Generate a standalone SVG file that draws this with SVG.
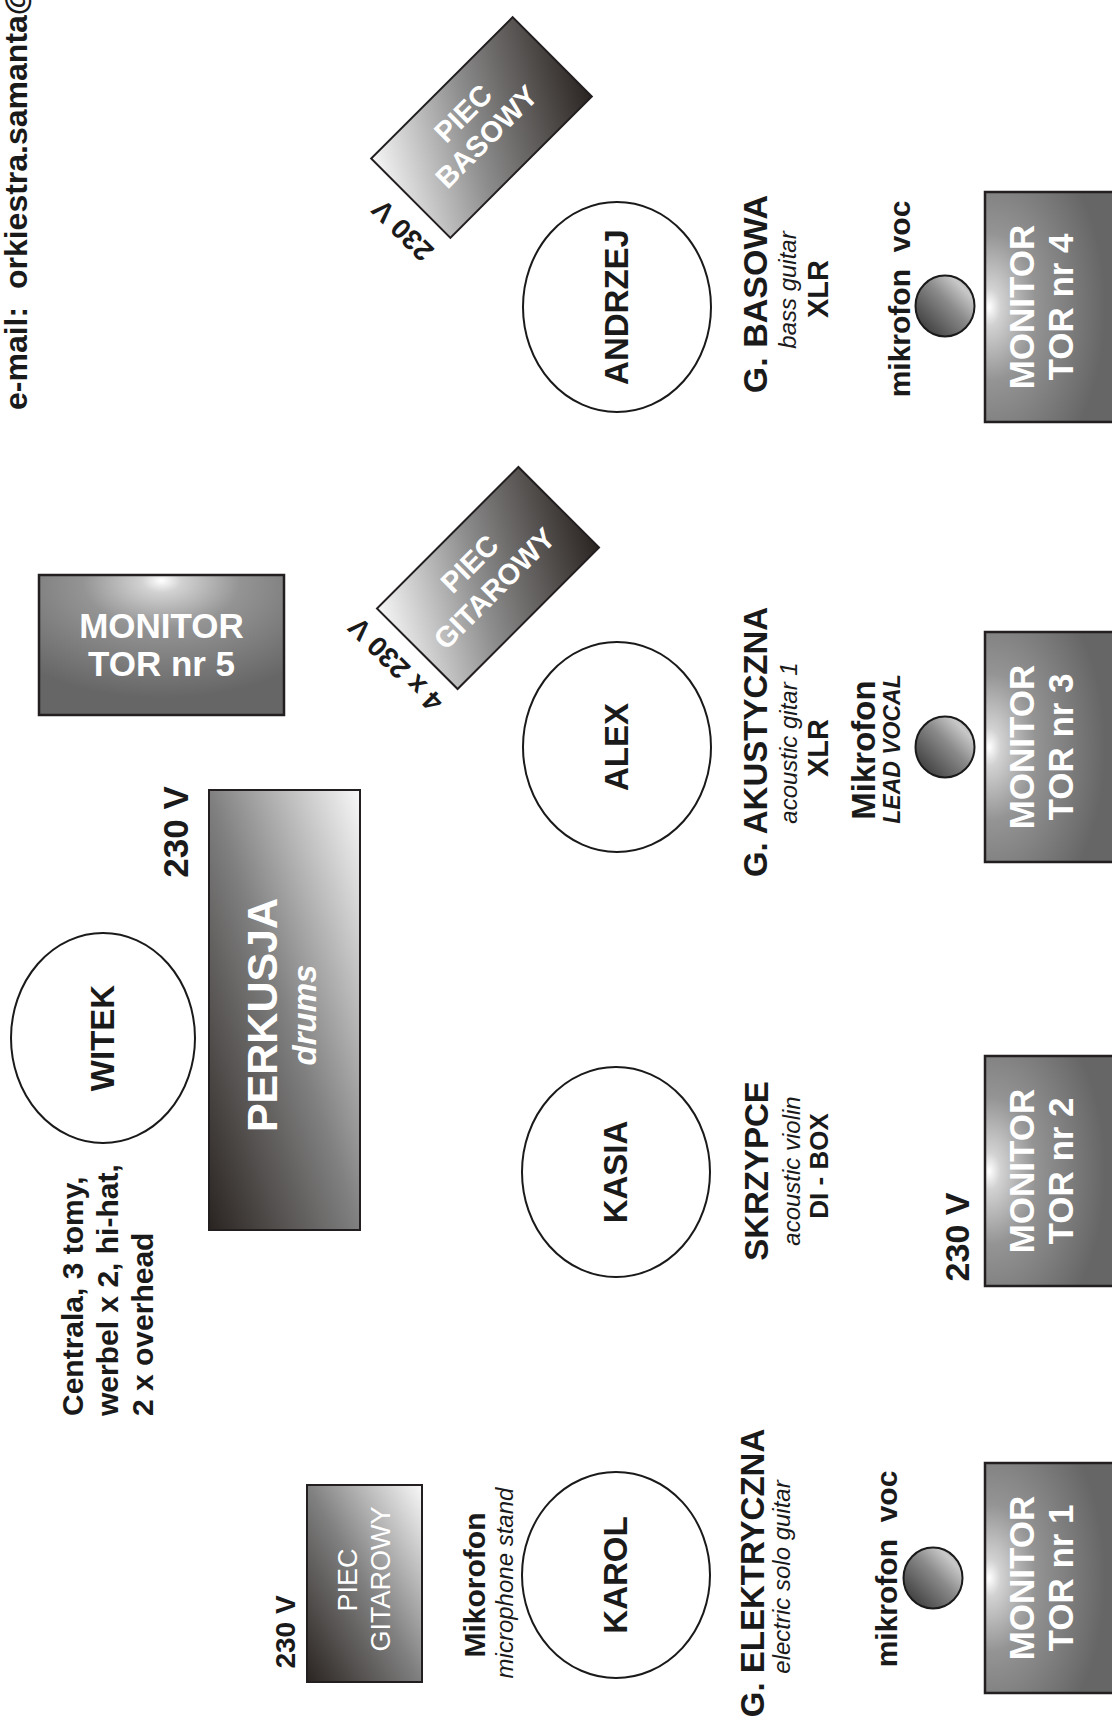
<svg xmlns="http://www.w3.org/2000/svg" width="1112" height="1735" viewBox="0 0 1112 1735">
<defs>
<style>
text{font-family:"Liberation Sans",Arial,sans-serif;fill:#1a1a1a;}
.b{font-weight:bold;}
.i{font-style:italic;}
.w{fill:#ffffff;}
.m{text-anchor:middle;}
.pre{white-space:pre;}
.person{fill:#ffffff;stroke:#1a1a1a;stroke-width:2;}
.box{stroke:#231f20;stroke-width:2;}
.mon{stroke:#231f20;stroke-width:2.5;}
.mic{fill:url(#micG);stroke:#1a1a1a;stroke-width:2;}
</style>
<linearGradient id="ampG" gradientUnits="userSpaceOnUse" x1="-100" y1="-57" x2="100" y2="57">
<stop offset="0" stop-color="#f7f7f7"/>
<stop offset="0.45" stop-color="#8e8e8e"/>
<stop offset="1" stop-color="#2a2421"/>
</linearGradient>
<linearGradient id="diagG" x1="1" y1="0" x2="0" y2="1">
<stop offset="0" stop-color="#f8f8f8"/>
<stop offset="0.5" stop-color="#808080"/>
<stop offset="1" stop-color="#2a2421"/>
</linearGradient>
<radialGradient id="mon5G" cx="0.5" cy="0.08" r="0.8" fx="0.5" fy="0.04">
<stop offset="0" stop-color="#ffffff"/>
<stop offset="0.1" stop-color="#d2d2d2"/>
<stop offset="0.4" stop-color="#949494"/>
<stop offset="1" stop-color="#666666"/>
</radialGradient>
<radialGradient id="monRG" cx="0.06" cy="0.5" r="0.8" fx="0.03" fy="0.5">
<stop offset="0" stop-color="#ffffff"/>
<stop offset="0.1" stop-color="#d2d2d2"/>
<stop offset="0.4" stop-color="#949494"/>
<stop offset="1" stop-color="#666666"/>
</radialGradient>
<linearGradient id="micG" x1="0" y1="1" x2="1" y2="0">
<stop offset="0" stop-color="#2a2a2a"/>
<stop offset="0.55" stop-color="#8a8a8a"/>
<stop offset="0.8" stop-color="#c8c8c8"/>
<stop offset="1" stop-color="#999999"/>
</linearGradient>
</defs>
<rect width="1112" height="1735" fill="#ffffff"/>
<g id="connectors"/>

<g id="email">
<text class="b pre" font-size="32" transform="translate(27,410) rotate(-90)">e-mail:  orkiestra.samanta@</text>
</g>

<g id="piec-basowy">
<g transform="translate(481.5,127.5) rotate(-45)">
<rect class="box" x="-100" y="-56" width="200" height="112" fill="url(#ampG)"/>
<text class="b w m" font-size="29" x="-3" y="-13">PIEC</text>
<text class="b w m" font-size="29" x="-3" y="20">BASOWY</text>
<text class="b m" font-size="28" transform="translate(-119,17) rotate(-90)">230 V</text>
</g>
</g>

<g id="piec-gitarowy-1">
<g transform="translate(488,578) rotate(-45)">
<rect class="box" x="-100" y="-57" width="200" height="114" fill="url(#ampG)"/>
<text class="b w m" font-size="29" x="-3" y="-13">PIEC</text>
<text class="b w m" font-size="29" x="-3" y="22">GITAROWY</text>
<text class="b m" font-size="28" transform="translate(-117,-4) rotate(-90)">4 x 230 V</text>
</g>
</g>

<g id="monitor-5">
<rect class="mon" x="39" y="575" width="245" height="140" fill="url(#mon5G)"/>
<text class="b w m" font-size="35" x="161.5" y="638">MONITOR</text>
<text class="b w m" font-size="35" x="161.5" y="676">TOR nr 5</text>
</g>

<g id="monitor-4">
<rect class="mon" x="985" y="192" width="140" height="230" fill="url(#monRG)"/>
<text class="b w m" font-size="35" transform="translate(1034,307) rotate(-90)">MONITOR</text>
<text class="b w m" font-size="35" transform="translate(1073,307) rotate(-90)">TOR nr 4</text>
</g>
<g id="monitor-3">
<rect class="mon" x="985" y="632" width="140" height="230" fill="url(#monRG)"/>
<text class="b w m" font-size="35" transform="translate(1034,747) rotate(-90)">MONITOR</text>
<text class="b w m" font-size="35" transform="translate(1073,747) rotate(-90)">TOR nr 3</text>
</g>
<g id="monitor-2">
<rect class="mon" x="985" y="1056" width="140" height="230" fill="url(#monRG)"/>
<text class="b w m" font-size="35" transform="translate(1034,1171) rotate(-90)">MONITOR</text>
<text class="b w m" font-size="35" transform="translate(1073,1171) rotate(-90)">TOR nr 2</text>
</g>
<g id="monitor-1">
<rect class="mon" x="985" y="1463" width="140" height="230" fill="url(#monRG)"/>
<text class="b w m" font-size="35" transform="translate(1034,1578) rotate(-90)">MONITOR</text>
<text class="b w m" font-size="35" transform="translate(1073,1578) rotate(-90)">TOR nr 1</text>
</g>

<g id="mic-4">
<ellipse class="mic" cx="945" cy="306" rx="29.5" ry="30.5"/>
<text class="b m pre" font-size="30" transform="translate(910,299) rotate(-90)">mikrofon  voc</text>
</g>
<g id="mic-3">
<ellipse class="mic" cx="945" cy="747" rx="29.5" ry="30.5"/>
<text class="b m" font-size="33" transform="translate(875,750) rotate(-90)">Mikrofon</text>
<text class="b i m" font-size="23" transform="translate(900,749) rotate(-90)">LEAD VOCAL</text>
</g>
<g id="mic-1">
<ellipse class="mic" cx="933" cy="1578" rx="29.5" ry="30.5"/>
<text class="b m pre" font-size="30" transform="translate(897,1569) rotate(-90)">mikrofon  voc</text>
</g>

<g id="andrzej">
<ellipse class="person" cx="617" cy="307" rx="94" ry="105"/>
<text class="b m" font-size="33" transform="translate(628,307) rotate(-90)">ANDRZEJ</text>
</g>
<g id="g-basowa">
<text class="b m" font-size="34" transform="translate(767,294) rotate(-90)">G. BASOWA</text>
<text class="i m" font-size="24" transform="translate(796,290) rotate(-90)">bass guitar</text>
<text class="b m" font-size="29" transform="translate(828,289) rotate(-90)">XLR</text>
</g>

<g id="alex">
<ellipse class="person" cx="617" cy="747" rx="94" ry="105"/>
<text class="b m" font-size="33" transform="translate(628,747) rotate(-90)">ALEX</text>
</g>
<g id="g-akustyczna">
<text class="b m" font-size="33" transform="translate(767,742) rotate(-90)">G. AKUSTYCZNA</text>
<text class="i m" font-size="24" transform="translate(797,743) rotate(-90)">acoustic gitar 1</text>
<text class="b m" font-size="29" transform="translate(828,748) rotate(-90)">XLR</text>
</g>

<g id="kasia">
<ellipse class="person" cx="616" cy="1172" rx="94" ry="105"/>
<text class="b m" font-size="33" transform="translate(627,1172) rotate(-90)">KASIA</text>
</g>
<g id="skrzypce">
<text class="b m" font-size="33" transform="translate(768,1171) rotate(-90)">SKRZYPCE</text>
<text class="i m" font-size="24" transform="translate(800,1171) rotate(-90)">acoustic violin</text>
<text class="b m" font-size="26" transform="translate(828,1166) rotate(-90)">DI - BOX</text>
</g>
<g id="power-monitor-2">
<text class="b m" font-size="34" transform="translate(969,1237) rotate(-90)">230 V</text>
</g>

<g id="karol">
<ellipse class="person" cx="616" cy="1575" rx="94" ry="103"/>
<text class="b m" font-size="33" transform="translate(627,1575) rotate(-90)">KAROL</text>
</g>
<g id="g-elektryczna">
<text class="b m" font-size="33" transform="translate(764,1573) rotate(-90)">G. ELEKTRYCZNA</text>
<text class="i m" font-size="24" transform="translate(790,1577) rotate(-90)">electric solo guitar</text>
</g>
<g id="mikorofon">
<text class="b m" font-size="30" transform="translate(485,1585) rotate(-90)">Mikorofon</text>
<text class="i m" font-size="24" transform="translate(513,1583) rotate(-90)">microphone stand</text>
</g>

<g id="piec-gitarowy-2">
<rect class="box" x="307" y="1485" width="115" height="197" fill="url(#diagG)"/>
<text class="w m" font-size="27" transform="translate(357,1580) rotate(-90)">PIEC</text>
<text class="w m" font-size="27" transform="translate(390,1579) rotate(-90)">GITAROWY</text>
<text class="b m" font-size="28" transform="translate(295,1632) rotate(-90)">230 V</text>
</g>

<g id="perkusja">
<rect class="box" x="209" y="790" width="151" height="440" fill="url(#diagG)"/>
<text class="b w m" font-size="43" transform="translate(277,1015) rotate(-90)">PERKUSJA</text>
<text class="b i w m" font-size="33" transform="translate(316,1015) rotate(-90)">drums</text>
<text class="b m" font-size="35" transform="translate(188,832) rotate(-90)">230 V</text>
</g>

<g id="witek">
<ellipse class="person" cx="103" cy="1038" rx="92" ry="105"/>
<text class="b m" font-size="33" transform="translate(114,1038) rotate(-90)">WITEK</text>
</g>
<g id="drum-kit">
<text class="b" font-size="30" transform="translate(83,1416) rotate(-90)">Centrala, 3 tomy,</text>
<text class="b" font-size="30" transform="translate(118,1416) rotate(-90)">werbel x 2, hi-hat,</text>
<text class="b" font-size="30" transform="translate(153,1416) rotate(-90)">2 x overhead</text>
</g>
</svg>
